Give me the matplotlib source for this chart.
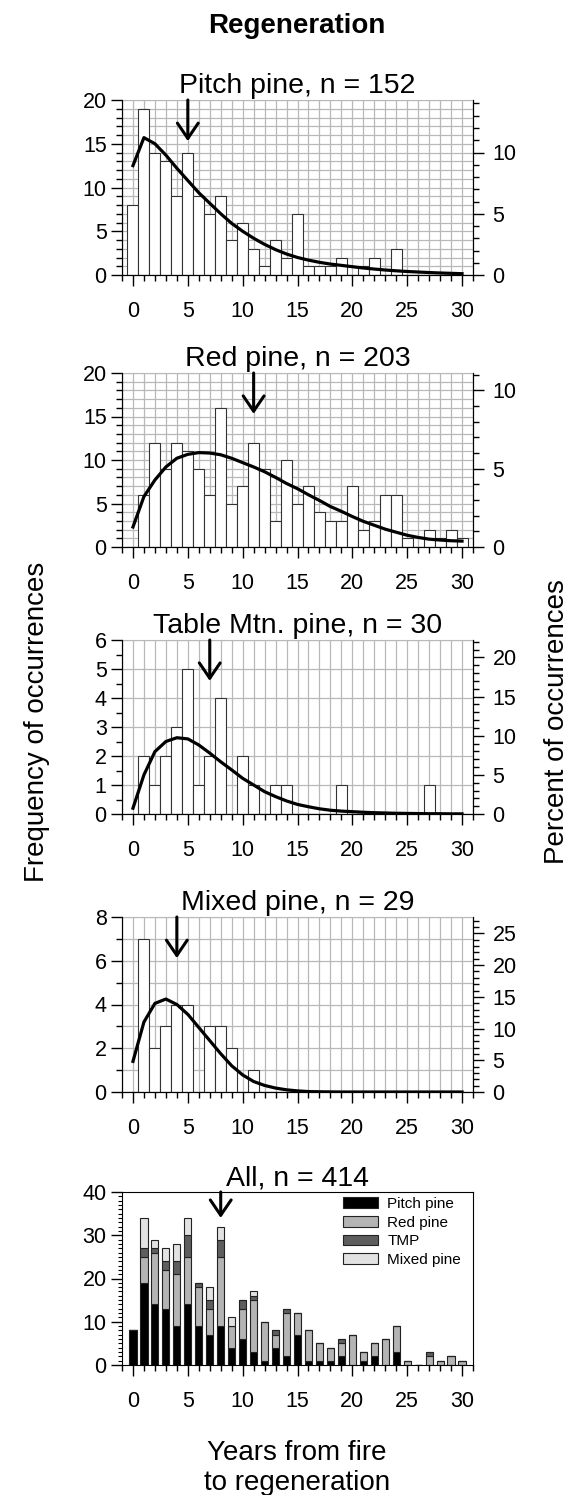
import numpy as np
import matplotlib
matplotlib.use('Agg')
import matplotlib.pyplot as plt
from matplotlib.ticker import MultipleLocator

plt.rcParams['font.family'] = ['Liberation Sans', 'DejaVu Sans']

years = np.arange(31)

# counts per year after fire
pitch = [8, 19, 14, 13, 9, 14, 9, 7, 9, 4, 6, 3, 1, 4, 2, 7, 1, 1, 1, 2,
         0, 1, 2, 0, 3, 0, 0, 0, 0, 0, 0]
red = [0, 6, 12, 9, 12, 11, 9, 6, 16, 5, 7, 12, 9, 3, 10, 5, 7, 4, 3, 3,
       7, 2, 3, 6, 6, 1, 0, 2, 1, 2, 1]
tmp = [0, 2, 1, 2, 3, 5, 1, 2, 4, 0, 2, 1, 0, 1, 1, 0, 0, 0, 0, 1,
       0, 0, 0, 0, 0, 0, 0, 1, 0, 0, 0]
mixed = [0, 7, 2, 3, 4, 4, 0, 3, 3, 2, 0, 1, 0, 0, 0, 0, 0, 0, 0, 0,
         0, 0, 0, 0, 0, 0, 0, 0, 0, 0, 0]

# fitted curves (values at each year)
pitch_fit = [12.5, 15.7, 15.0, 13.7, 12.2, 10.8, 9.4, 8.2, 7.0, 5.9, 5.0,
             4.2, 3.5, 2.9, 2.4, 2.0, 1.7, 1.45, 1.25, 1.1, 0.95, 0.8, 0.68,
             0.57, 0.48, 0.4, 0.34, 0.28, 0.23, 0.19, 0.15]
red_fit = [2.3, 5.8, 7.7, 9.2, 10.2, 10.65, 10.85, 10.8, 10.6, 10.2, 9.7,
           9.2, 8.65, 8.0, 7.3, 6.7, 6.0, 5.35, 4.65, 4.1, 3.5, 2.95, 2.5,
           2.05, 1.7, 1.35, 1.1, 0.9, 0.8, 0.72, 0.68]
tmp_fit = [0.2, 1.35, 2.15, 2.5, 2.63, 2.59, 2.38, 2.1, 1.8, 1.52, 1.23,
           1.0, 0.77, 0.6, 0.45, 0.33, 0.25, 0.18, 0.13, 0.1, 0.08, 0.06,
           0.045, 0.035, 0.025, 0.02, 0.015, 0.01, 0.01, 0.005, 0.005]
mixed_fit = [1.4, 3.2, 4.05, 4.25, 4.0, 3.55, 2.95, 2.35, 1.75, 1.2, 0.78,
             0.48, 0.3, 0.18, 0.1, 0.05, 0.02, 0.01, 0.005, 0, 0, 0, 0, 0,
             0, 0, 0, 0, 0, 0, 0]

titles = ["Pitch pine, n = 152", "Red pine, n = 203",
          "Table Mtn. pine, n = 30", "Mixed pine, n = 29", "All, n = 414"]
mean_years = [5, 11, 7, 4, 8]
legend_labels = ["Pitch pine", "Red pine", "TMP", "Mixed pine"]
legend_colors = ["#000000", "#b4b4b4", "#5e5e5e", "#e2e2e2"]

W, H = 584, 1495
fig = plt.figure(figsize=(W / 100, H / 100), dpi=100)

# axes boxes in pixels: (top, bottom)
boxes = [(100, 275), (373, 547), (640, 814), (917, 1092), (1192, 1365)]
left_px, right_px = 122, 473

def make_ax(top, bottom):
    return fig.add_axes([left_px / W, (H - bottom) / H,
                         (right_px - left_px) / W, (bottom - top) / H])

tick_fs = 15.5
title_fs = 20.5

panels = [
    (pitch, pitch_fit, 20, 5, 1),
    (red, red_fit, 20, 5, 1),
    (tmp, tmp_fit, 6, 1, 0.5),
    (mixed, mixed_fit, 8, 2, 1),
]

def style_x(ax):
    ax.set_xlim(-1, 31)
    ax.xaxis.set_major_locator(MultipleLocator(5))
    ax.xaxis.set_minor_locator(MultipleLocator(1))
    ax.tick_params(axis='x', which='major', length=8, width=1, pad=11,
                   labelsize=tick_fs, direction='out')
    ax.tick_params(axis='x', which='minor', length=4, width=1, direction='out')

def add_arrow(ax, x, frac):
    ax.annotate('', xy=(x, 1 - frac), xytext=(x, 1.0),
                xycoords=('data', 'axes fraction'),
                textcoords=('data', 'axes fraction'),
                arrowprops=dict(arrowstyle='->,head_length=1.1,head_width=0.75',
                                lw=2.2, color='black', shrinkA=0, shrinkB=0),
                annotation_clip=False, zorder=6)

for i, (counts, fit, ytop, ymaj, ymin) in enumerate(panels):
    top, bottom = boxes[i]
    ax = make_ax(top, bottom)
    ax.set_axisbelow(True)
    ax.bar(years, counts, width=1.0, color='white', edgecolor='#333333',
           linewidth=0.8, zorder=2)
    ax.plot(years, fit, color='black', lw=2.3, zorder=4)
    ax.set_ylim(0, ytop)
    style_x(ax)
    ax.yaxis.set_major_locator(MultipleLocator(ymaj))
    ax.yaxis.set_minor_locator(MultipleLocator(ymin))
    ax.tick_params(axis='y', which='major', length=8, width=1, pad=3,
                   labelsize=tick_fs)
    ax.tick_params(axis='y', which='minor', length=4, width=1)
    # grid every unit
    for gx in range(-1, 32):
        ax.axvline(gx, color='#b8b8b8', lw=0.9, zorder=0)
    for gy in np.arange(0, ytop + 0.01, 1):
        ax.axhline(gy, color='#b8b8b8', lw=0.9, zorder=0)
    ax.spines['top'].set_color('#b8b8b8')
    ax.set_title(titles[i], fontsize=title_fs, pad=5)
    add_arrow(ax, mean_years[i], 0.235)

    # percent axis
    total = sum(counts)
    ax2 = ax.twinx()
    ax2.set_ylim(0, ytop / total * 100)
    ax2.yaxis.set_major_locator(MultipleLocator(5))
    ax2.yaxis.set_minor_locator(MultipleLocator(1))
    ax2.tick_params(axis='y', which='major', length=8, width=1, pad=6,
                    labelsize=tick_fs)
    ax2.tick_params(axis='y', which='minor', length=4, width=1)
    ax2.spines['top'].set_visible(False)

# combined panel
top, bottom = boxes[4]
ax = make_ax(top, bottom)
stack = [pitch, red, tmp, mixed]
base = np.zeros(len(years))
for vals, lab, col in zip(stack, legend_labels, legend_colors):
    v = np.array(vals, dtype=float)
    ax.bar(years, v, bottom=base, width=0.65, color=col, edgecolor='#222222',
           linewidth=0.8, label=lab, zorder=2)
    base += v
ax.set_ylim(0, 40)
style_x(ax)
ax.yaxis.set_major_locator(MultipleLocator(10))
ax.yaxis.set_minor_locator(MultipleLocator(1))
ax.tick_params(axis='y', which='major', length=8, width=1, pad=3,
               labelsize=tick_fs)
ax.tick_params(axis='y', which='minor', length=3, width=0.8)
ax.set_title(titles[4], fontsize=title_fs, pad=5)
add_arrow(ax, mean_years[4], 0.15)
ax.legend(loc='upper left', bbox_to_anchor=(0.63, 0.97), frameon=False,
          fontsize=11, handlelength=2.3, handleheight=0.7,
          handletextpad=0.6, labelspacing=0.3, borderpad=0,
          borderaxespad=0)

fig.text(297 / W, 1 - 26 / H, "Regeneration", ha='center', va='center',
         fontsize=20, fontweight='bold')
fig.text(37 / W, 1 - 722 / H, "Frequency of occurrences", rotation=90,
         ha='center', va='center', fontsize=20)
fig.text(557 / W, 1 - 722 / H, "Percent of occurrences", rotation=90,
         ha='center', va='center', fontsize=20)
fig.text(297 / W, 1 - 1468 / H, "Years from fire\nto regeneration",
         ha='center', va='center', fontsize=20, linespacing=1.25)

fig.savefig('out.png', dpi=100)
